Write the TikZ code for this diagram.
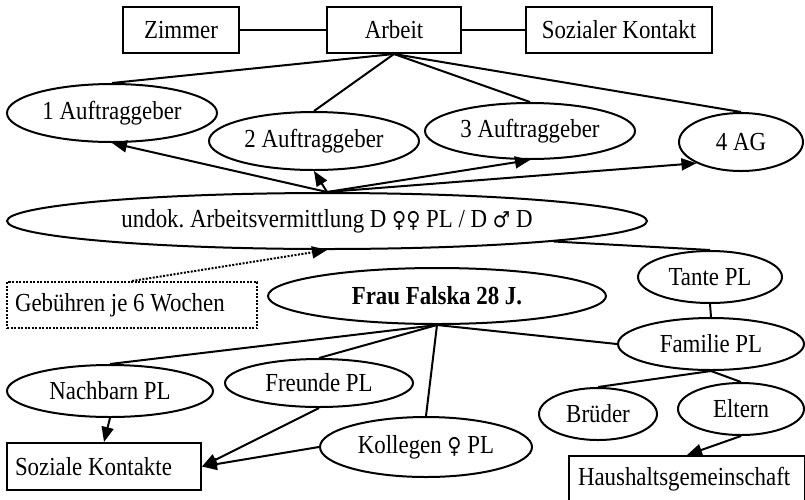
\documentclass[tikz,border=0pt]{standalone}
\usepackage{fontspec}
\setmainfont{Liberation Serif}[FakeStretch=0.88]
\newfontfamily\symf{DejaVu Sans}[FakeStretch=0.88]
\newcommand{\fem}{{\symf\fontsize{22}{26}\selectfont ♀}}
\newcommand{\mal}{{\symf\fontsize{22}{26}\selectfont ♂}}
\usetikzlibrary{shapes.geometric,arrows.meta}
\frenchspacing
\begin{document}
\begin{tikzpicture}[x=1pt,y=-1pt,
  every node/.style={font=\fontsize{26}{30}\selectfont},
  lw/.style={line width=2pt},
  box/.style={draw,lw,rectangle,inner sep=0pt,minimum height=46pt},
  ell/.style={draw,lw,ellipse,inner sep=0pt},
  con/.style={lw},
  arr/.style={lw,-{Triangle[length=15pt,width=12pt]}},
  dotl/.style={lw,dash pattern=on 2pt off 1.5pt}]
\useasboundingbox (0,0) rectangle (805,499);
% top boxes
\node[box,minimum width=116pt] (zim) at (181,30) {Zimmer};
\node[box,minimum width=134pt] (arb) at (394,30) {Arbeit};
\node[box,minimum width=186pt] (soz) at (619,30) {Sozialer Kontakt};
% employers
\node[ell,minimum width=210pt,minimum height=58pt] (a1) at (112,113) {1 Auftraggeber};
\node[ell,minimum width=210pt,minimum height=58pt] (a2) at (314,141) {2 Auftraggeber};
\node[ell,minimum width=210pt,minimum height=56pt] (a3) at (530,131) {3 Auftraggeber};
\node[ell,minimum width=124pt,minimum height=58pt] (a4) at (741,142) {4 AG};
% agency
\node[ell,minimum width=640pt,minimum height=56pt] (und) at (327,221) {undok. Arbeitsvermittlung D \fem\fem{} PL / D \mal{} D};
\node[box,dotl,minimum width=250pt] (geb) at (132,305) {\makebox[234pt][l]{Gebühren je 6 Wochen}};
% person
\node[ell,minimum width=338pt,minimum height=56pt,font=\fontsize{26}{30}\selectfont\bfseries] (frau) at (437,296) {Frau Falska 28 J.};
\node[ell,minimum width=144pt,minimum height=52pt] (tante) at (710,277) {Tante PL};
\node[ell,minimum width=186pt,minimum height=52pt] (fam) at (711,344) {Familie PL};
\node[ell,minimum width=206pt,minimum height=52pt] (nach) at (110,391) {Nachbarn PL};
\node[ell,minimum width=188pt,minimum height=48pt] (freu) at (319,383) {Freunde PL};
\node[ell,minimum width=212pt,minimum height=60pt] (koll) at (426,447) {Kollegen \fem{} PL};
\node[ell,minimum width=118pt,minimum height=52pt] (brue) at (598,414) {Brüder};
\node[ell,minimum width=126pt,minimum height=52pt] (elt) at (741,409) {Eltern};
\node[box,minimum width=194pt,minimum height=47pt] (soka) at (104,466.5) {\makebox[178pt][l]{Soziale Kontakte}};
\node[box,anchor=north west,minimum width=236pt] (haus) at (568,455) {\makebox[218pt][l]{Haushaltsgemeinschaft}};
% connectors
\draw[con] (zim) -- (arb);
\draw[con] (arb) -- (soz);
\draw[con] (arb.south) -- (a1.north);
\draw[con] (arb.south) -- (a2.north);
\draw[con] (arb.south) -- (a3.north);
\draw[con] (arb.south) -- (a4.north);
\draw[arr] (und.north) -- (a1.south);
\draw[arr] (und.north) -- (a2.south);
\draw[arr] (und.north) -- (a3.south);
\draw[arr] (und.north) -- (a4.south west);
\draw[dotl,-{Triangle[length=15pt,width=12pt]}] (geb.north) -- (und.south);
\draw[con] (und.south east) -- (tante.north);
\draw[con] (tante.south) -- (fam.north);
\draw[con] (frau.south) -- (nach.north);
\draw[con] (frau.south) -- (freu.north);
\draw[con] (frau.south) -- (koll.north);
\draw[con] (frau.south) -- (fam.west);
\draw[con] (fam.south) -- (brue.north);
\draw[con] (fam.south) -- (elt.north);
\draw[arr] (elt.south) -- (haus.north);
\draw[arr] (nach.south) -- (soka.north);
\draw[arr] (freu.south) -- (soka.east);
\draw[arr] (koll.west) -- (soka.east);
\end{tikzpicture}
\end{document}
